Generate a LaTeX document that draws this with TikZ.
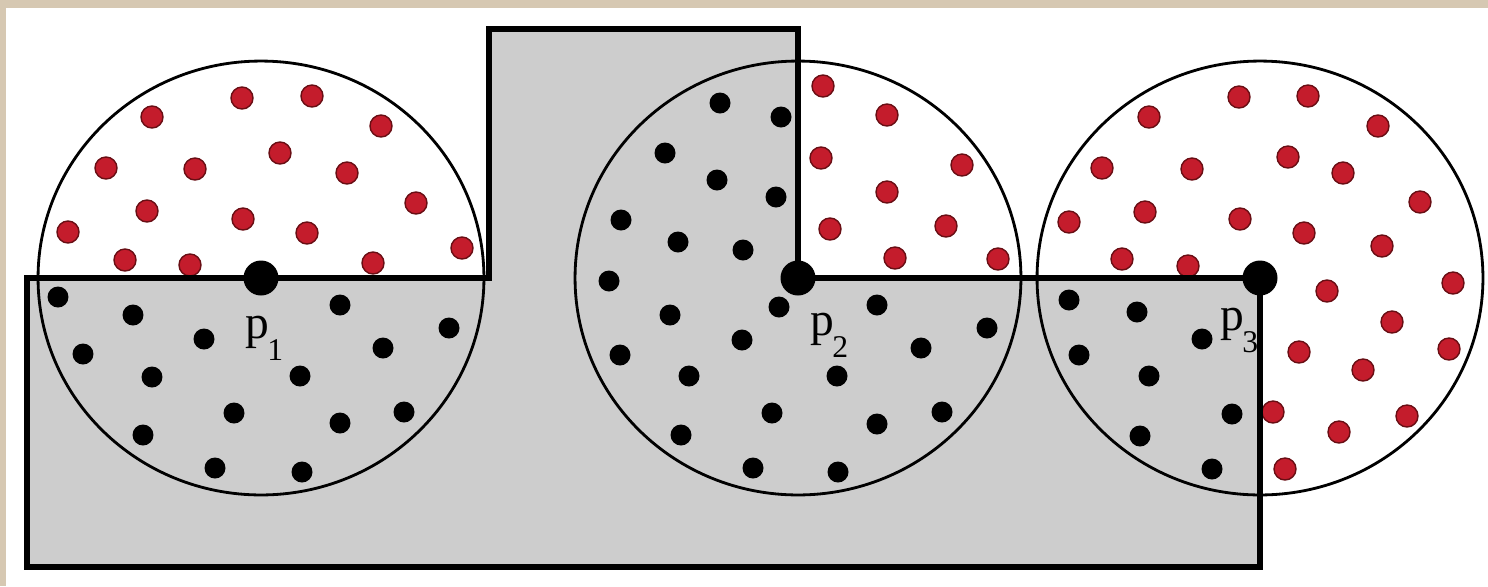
\documentclass[tikz,border=0pt]{standalone}
\usepackage{fontspec}
\setmainfont{Liberation Serif}
\usepackage{tikz}
\usetikzlibrary{positioning}
\definecolor{samplered}{RGB}{196,28,44}
\definecolor{sampleedge}{RGB}{105,14,20}
\definecolor{regiongray}{RGB}{205,205,205}
\definecolor{marbletan}{RGB}{214,200,178}
\newcommand{\pname}[1]{p\kern-1pt\raisebox{-0.48em}{\fontsize{18}{18}\selectfont #1}}

\begin{document}
\begin{tikzpicture}[x=0.02cm,y=-0.02cm,
  region/.style={line width=3.2pt,line join=miter},
  disk/.style={line width=1.6pt},
  reddot/.style={fill=samplered,draw=sampleedge,line width=0.8pt},
  blackdot/.style={fill=black},
  bigdot/.style={circle,fill=black,inner sep=0pt,minimum size=0.7cm},
  plab/.style={anchor=base west,inner sep=0pt,font=\fontsize{27}{30}\selectfont}]
\useasboundingbox (0,0) rectangle (1488,586);
% Frame
\fill[marbletan] (0,0) rectangle (1488,586);
\fill[white] (6,8) rectangle (1488,586);
% Query points
\def\py{278}
\coordinate (c1) at (261,\py);
\coordinate (c2) at (798,\py);
\coordinate (c3) at (1260,\py);
% Region
\fill[regiongray] (27,\py) -- (489,\py) -- (489,29) -- (798,29) -- (c2) -- (c3) -- (1260,567) -- (27,567) -- cycle;
% Samples outside the region
\foreach \x/\y in {152/117,242/98,312/96,381/126,280/153,106/168,195/169,347/173,416/203,147/211,243/219,307/233,68/232,462/248,125/260,190/265,373/263,
  823/86,887/115,821/158,962/165,887/192,830/229,946/226,895/258,998/259,
  1149/117,1239/97,1308/96,1378/126,1102/168,1192/169,1288/157,1343/173,1420/202,1069/222,1145/212,1240/219,1304/233,1382/246,1122/259,1188/266,
  1327/291,1453/283,1392/322,1299/352,1449/349,1363/370,1273/412,1407/416,1339/432,1285/469}
  \draw[reddot] (\x,\y) circle [radius=0.22cm];
% Samples inside the region
\foreach \x/\y in {58/297,133/315,204/339,340/305,449/328,83/354,383/348,152/377,300/376,234/413,404/412,143/435,340/423,215/468,302/472,
  720/103,781/117,665/153,717/180,776/197,621/220,678/242,743/250,609/281,670/315,779/307,877/305,742/340,620/355,987/328,921/348,
  689/376,837/376,772/413,877/424,942/412,681/435,753/468,838/472,
  1069/300,1137/312,1202/339,1079/355,1149/376,1232/414,1140/436,1212/469}
  \fill[blackdot] (\x,\y) circle [radius=0.21cm];
% Neighbourhoods
\foreach \c in {c1,c2,c3}
  \draw[disk] (\c) ellipse [x radius=4.46cm, y radius=4.34cm];
% Region boundary
\draw[region] (27,\py) -- (489,\py) -- (489,29) -- (798,29) -- (c2) -- (c3) -- (1260,567) -- (27,567) -- cycle;
% Points and labels
\node[bigdot] (p1) at (c1) {};
\node[bigdot] (p2) at (c2) {};
\node[bigdot] (p3) at (c3) {};
\node[plab] (l1) at (245,338) {\pname{1}};
\node[plab] (l2) at (810,335) {\pname{2}};
\node[plab] (l3) at (1220,330) {\pname{3}};
\end{tikzpicture}
\end{document}
